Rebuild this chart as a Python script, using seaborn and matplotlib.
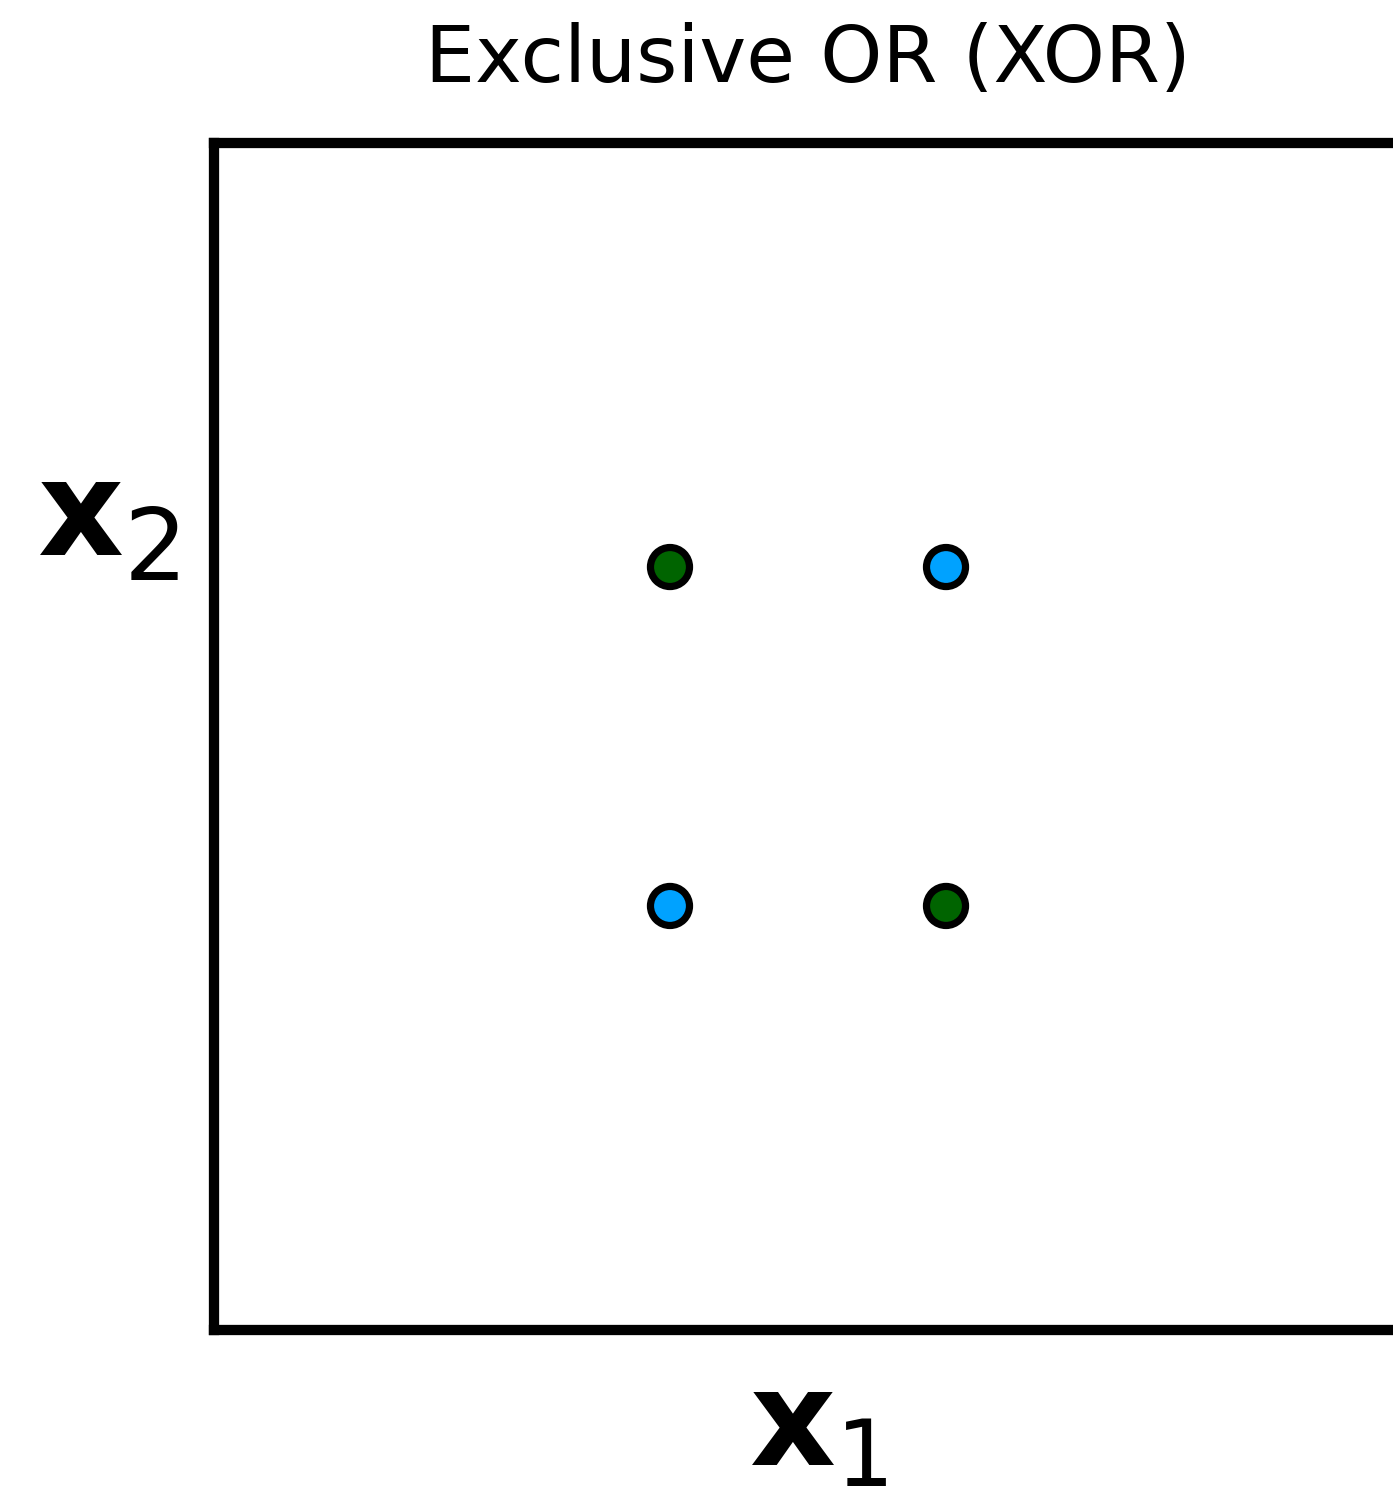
import matplotlib
matplotlib.use("Agg")
import matplotlib.pyplot as plt
import seaborn as sns
import pandas as pd

# XOR truth table: inputs and output
x1 = [0, 1, 0, 1]
x2 = [0, 0, 1, 1]
output = [0, 1, 1, 0]

palette = {0: "#00A2FF", 1: "#006400"}

sns.set_theme(style="white")
plt.rcParams["font.family"] = ["DejaVu Sans"]

W, H = 1393, 1493
fig = plt.figure(figsize=(W / 100, H / 100), dpi=100)
ax = fig.add_axes([214 / W, 1 - 1330 / H, (1402 - 214) / W, (1330 - 143) / H])

df = pd.DataFrame({"x1": x1, "x2": x2, "y": output})
sns.scatterplot(data=df, x="x1", y="x2", hue="y", palette=palette,
                s=790, edgecolor="black", linewidth=5.2, legend=False,
                ax=ax, zorder=3, clip_on=False)

ax.set_xlim(-1.652, 2.652)
ax.set_ylim(-1.251, 2.251)
ax.set_xticks([])
ax.set_yticks([])
ax.set_xlabel("")
ax.set_ylabel("")
for side in ["left", "right", "top", "bottom"]:
    ax.spines[side].set_visible(True)
    ax.spines[side].set_color("black")
    ax.spines[side].set_linewidth(7.4)

# title
fig.text(808 / W, 1 - 82 / H, "Exclusive OR (XOR)", ha="center", va="baseline",
         fontsize=57, color="black")

# axis labels as variable + subscript
def label(x_px, y_px, main, sub, sub_dx, sub_dy, sub_size):
    fig.text(x_px / W, 1 - y_px / H, main, ha="left", va="baseline",
             fontsize=96, fontweight="bold", color="black")
    fig.text((x_px + sub_dx) / W, 1 - (y_px + sub_dy) / H, sub, ha="left",
             va="baseline", fontsize=sub_size, color="black")

label(38, 555, "x", "2", 86, 25, 72)
label(750, 1465, "x", "1", 86, 21, 66)

fig.savefig("out.png", dpi=100, facecolor="white")
